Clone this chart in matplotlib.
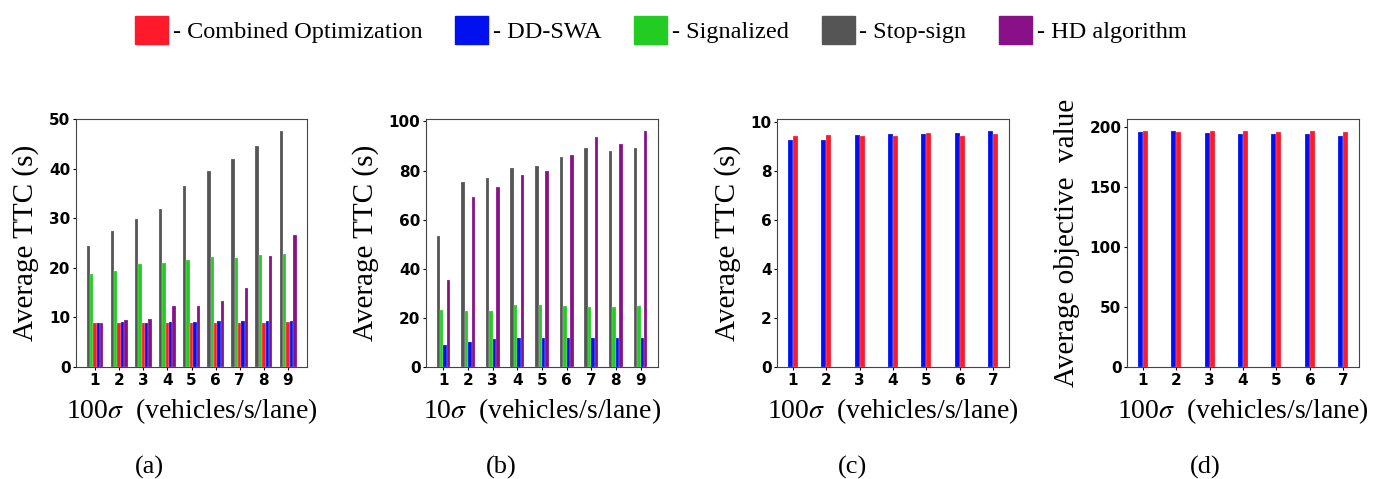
'''
    Average TTC / objective value comparison, four panels
'''
import numpy as np
import matplotlib
matplotlib.use('Agg')
import matplotlib.pyplot as plt
from matplotlib.patches import Patch

plt.rcParams['mathtext.fontset'] = 'stix'

# colours
c_comb = '#ff1a2b'
c_dd = '#0010ee'
c_sig = '#22cc22'
c_stop = '#555555'
c_hd = '#881188'

# panel (a): 100 sigma, 9 rates
rates_a = [1, 2, 3, 4, 5, 6, 7, 8, 9]
stop_a = [24.4, 27.4, 29.9, 31.9, 36.5, 39.6, 42.0, 44.7, 47.7]
sig_a = [18.7, 19.3, 20.9, 21.0, 21.7, 22.3, 22.1, 22.7, 22.8]
comb_a = [8.8, 8.8, 8.8, 8.8, 8.8, 8.8, 8.8, 8.8, 9.0]
dd_a = [8.8, 9.0, 8.8, 9.0, 9.0, 9.2, 9.2, 9.2, 9.3]
hd_a = [8.9, 9.4, 9.7, 12.4, 12.4, 13.4, 16.0, 22.4, 26.7]

# panel (b): 10 sigma, 9 rates
rates_b = [1, 2, 3, 4, 5, 6, 7, 8, 9]
stop_b = [53.3, 75.2, 77.0, 80.9, 82.0, 85.4, 89.1, 87.9, 89.2]
sig_b = [23.3, 23.0, 23.0, 25.1, 25.1, 24.7, 24.5, 24.3, 24.9]
dd_b = [9.1, 10.2, 11.4, 11.9, 11.7, 11.9, 11.9, 12.0, 11.7]
hd_b = [35.4, 69.1, 73.3, 78.2, 79.8, 86.4, 93.7, 90.7, 96.2]

# panel (c): TTC, DD-SWA vs combined
rates_c = [1, 2, 3, 4, 5, 6, 7]
dd_c = [9.30, 9.27, 9.48, 9.53, 9.53, 9.56, 9.66]
comb_c = [9.43, 9.47, 9.46, 9.43, 9.55, 9.46, 9.52]

# panel (d): objective value
rates_d = [1, 2, 3, 4, 5, 6, 7]
dd_d = [196.6, 196.9, 195.3, 194.4, 194.4, 194.4, 193.0]
comb_d = [196.9, 196.6, 196.9, 197.2, 196.1, 196.9, 196.4]

fig = plt.figure(figsize=(13.78, 4.79), dpi=100)
W, H = 1378., 479.
boxes = [(76, 307), (426, 658), (777, 1009), (1127, 1359)]
axes = []
for l, r in boxes:
    axes.append(fig.add_axes([l / W, 1 - 367 / H, (r - l) / W, (367 - 119) / H]))

ekw = dict(edgecolor='#ffffff88', linewidth=0.3)

def grouped(ax, x, series, colors, w):
    x = np.array(x, dtype=float)
    n = len(series)
    for i, (vals, col) in enumerate(zip(series, colors)):
        ax.bar(x + (i - (n - 1) / 2) * w, vals, w, color=col, **ekw)
    ax.set_xticks(x)

grouped(axes[0], rates_a, [stop_a, sig_a, comb_a, dd_a, hd_a],
        [c_stop, c_sig, c_comb, c_dd, c_hd], 0.14)
grouped(axes[1], rates_b, [stop_b, sig_b, dd_b, hd_b],
        [c_stop, c_sig, c_dd, c_hd], 0.14)
grouped(axes[2], rates_c, [dd_c, comb_c], [c_dd, c_comb], 0.15)
grouped(axes[3], rates_d, [dd_d, comb_d], [c_dd, c_comb], 0.15)

axes[2].set_yticks([0, 2, 4, 6, 8, 10])
axes[3].set_yticks([0, 50, 100, 150, 200])

serif = 'Liberation Serif'
ylabels = ['Average TTC (s)', 'Average TTC (s)', 'Average TTC (s)', 'Average objective  value']
xlabels = [r'100$\sigma$  (vehicles/s/lane)', r'10$\sigma$  (vehicles/s/lane)',
           r'100$\sigma$  (vehicles/s/lane)', r'100$\sigma$  (vehicles/s/lane)']
caps = ['(a)', '(b)', '(c)', '(d)']
cap_x = [149, 501, 853, 1205]
for ax, yl, xl, cp, cx in zip(axes, ylabels, xlabels, caps, cap_x):
    ax.set_ylabel(yl, fontsize=21, family=serif, labelpad=7)
    ax.set_xlabel(xl, fontsize=20, family=serif, labelpad=6)
    for lab in ax.get_xticklabels() + ax.get_yticklabels():
        lab.set_fontweight('bold')
        lab.set_fontsize(11)
    ax.tick_params(length=2, pad=2)
    for s in ax.spines.values():
        s.set_color('#444444')
    fig.text(cx / W, 1 - 467 / H, cp, ha='center', va='center',
             fontsize=19, family=serif)

handles = [Patch(color=c) for c in [c_comb, c_dd, c_sig, c_stop, c_hd]]
labels = ['- Combined Optimization', '- DD-SWA', '- Signalized', '- Stop-sign', '- HD algorithm']
fig.legend(handles, labels, loc='center', bbox_to_anchor=(661 / W, 1 - 30 / H), ncol=5,
           frameon=False, prop={'family': serif, 'size': 17.5},
           handlelength=1.35, handleheight=1.4, handletextpad=0.2, columnspacing=1.35)

fig.savefig('out.png', dpi=100)
